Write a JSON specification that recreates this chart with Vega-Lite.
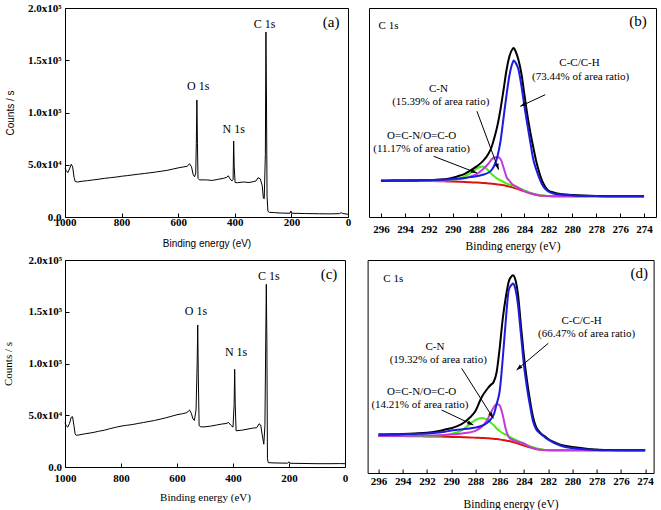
{
 "$schema": "https://vega.github.io/schema/vega-lite/v6.json",
 "background": "white",
 "padding": {"left": 1, "top": 1, "right": 0, "bottom": 0},
 "config": {
  "view": {"stroke": "black", "strokeWidth": 1},
  "axis": {"grid": false, "domain": false, "labelFont": "Liberation Serif", "labelFontWeight": "bold", "labelFontSize": 11, "labelColor": "black", "tickColor": "black", "titleFont": "Liberation Serif", "titleFontWeight": "normal", "titleFontSize": 11.5, "titleColor": "black", "labelFlush": false, "labelOverlap": false}
 },
 "datasets": {
  "a": [{"e":1000,"c":47000},{"e":996,"c":44500},{"e":990,"c":42500},{"e":984,"c":46000},{"e":978,"c":50500},{"e":973,"c":48000},{"e":968,"c":38000},{"e":964,"c":34000},{"e":955,"c":33500},{"e":940,"c":34200},{"e":920,"c":34800},{"e":900,"c":35500},{"e":880,"c":36200},{"e":860,"c":37000},{"e":840,"c":37600},{"e":820,"c":38200},{"e":800,"c":39000},{"e":780,"c":39600},{"e":760,"c":40300},{"e":740,"c":41000},{"e":720,"c":41600},{"e":700,"c":42300},{"e":680,"c":43000},{"e":660,"c":43800},{"e":640,"c":44600},{"e":620,"c":45800},{"e":600,"c":47000},{"e":580,"c":48000},{"e":568,"c":48500},{"e":560,"c":51000},{"e":553,"c":48000},{"e":547,"c":40500},{"e":542,"c":38500},{"e":538,"c":42000},{"e":536,"c":70000},{"e":534,"c":112000},{"e":532,"c":70000},{"e":530,"c":37000},{"e":525,"c":35500},{"e":500,"c":35500},{"e":480,"c":35000},{"e":460,"c":36000},{"e":440,"c":37000},{"e":428,"c":38000},{"e":423,"c":39500},{"e":417,"c":36500},{"e":410,"c":34500},{"e":406,"c":36000},{"e":404,"c":72700},{"e":402,"c":48000},{"e":399,"c":33000},{"e":390,"c":32800},{"e":370,"c":33500},{"e":350,"c":33000},{"e":335,"c":33800},{"e":325,"c":34500},{"e":318,"c":37600},{"e":310,"c":36500},{"e":303,"c":30000},{"e":299,"c":18000},{"e":296,"c":17500},{"e":292,"c":60000},{"e":290,"c":177000},{"e":288,"c":110000},{"e":286,"c":20000},{"e":283,"c":5500},{"e":278,"c":4500},{"e":260,"c":4200},{"e":240,"c":3800},{"e":205,"c":3600},{"e":202,"c":5800},{"e":199,"c":3600},{"e":150,"c":3300},{"e":100,"c":3100},{"e":60,"c":3000},{"e":30,"c":3200},{"e":24,"c":4200},{"e":18,"c":3300},{"e":0,"c":2600}],
  "c": [{"e":1000,"c":42800},{"e":996,"c":40000},{"e":990,"c":38600},{"e":984,"c":42000},{"e":978,"c":48000},{"e":973,"c":48600},{"e":968,"c":40000},{"e":964,"c":32000},{"e":960,"c":30600},{"e":950,"c":31000},{"e":930,"c":32000},{"e":900,"c":33300},{"e":880,"c":34500},{"e":860,"c":35500},{"e":840,"c":37000},{"e":820,"c":38300},{"e":800,"c":39500},{"e":780,"c":40300},{"e":760,"c":41000},{"e":740,"c":42000},{"e":720,"c":43000},{"e":700,"c":44000},{"e":680,"c":45000},{"e":660,"c":46200},{"e":640,"c":47500},{"e":620,"c":49000},{"e":600,"c":50500},{"e":580,"c":51500},{"e":565,"c":52500},{"e":555,"c":55000},{"e":549,"c":52000},{"e":543,"c":46500},{"e":538,"c":45000},{"e":532,"c":55000},{"e":528,"c":100000},{"e":526,"c":137200},{"e":524,"c":90000},{"e":521,"c":40000},{"e":515,"c":38800},{"e":500,"c":38800},{"e":480,"c":39500},{"e":460,"c":40500},{"e":440,"c":41500},{"e":425,"c":42000},{"e":416,"c":43000},{"e":408,"c":40500},{"e":400,"c":38500},{"e":396,"c":60000},{"e":394,"c":94400},{"e":392,"c":60000},{"e":389,"c":35000},{"e":370,"c":35500},{"e":350,"c":36500},{"e":330,"c":37500},{"e":315,"c":38000},{"e":307,"c":41800},{"e":301,"c":40500},{"e":295,"c":30000},{"e":290,"c":22000},{"e":286,"c":40000},{"e":282,"c":150000},{"e":281,"c":176500},{"e":279,"c":120000},{"e":277,"c":8000},{"e":274,"c":4200},{"e":250,"c":3900},{"e":205,"c":3700},{"e":200,"c":5000},{"e":196,"c":3600},{"e":150,"c":3400},{"e":100,"c":3200},{"e":50,"c":3200},{"e":20,"c":3300},{"e":0,"c":3200}],
  "b": [{"x":296,"r":36.3,"g":36.3,"m":36.3,"bl":36.3,"k":36.3},{"x":295,"r":36.3,"g":36.3,"m":36.3,"bl":36.4,"k":36.4},{"x":294,"r":36.2,"g":36.3,"m":36.3,"bl":36.5,"k":36.5},{"x":293,"r":36.1,"g":36.3,"m":36.3,"bl":36.7,"k":36.6},{"x":292,"r":36.0,"g":36.3,"m":36.5,"bl":36.9,"k":36.8},{"x":291,"r":35.8,"g":36.2,"m":36.8,"bl":37.3,"k":37.4},{"x":290.5,"r":35.6,"g":36.5,"m":37.1,"bl":37.6,"k":38.1},{"x":290,"r":35.4,"g":37.0,"m":37.5,"bl":38.0,"k":39.3},{"x":289.5,"r":35.2,"g":38.0,"m":38.0,"bl":38.5,"k":41.0},{"x":289,"r":35.0,"g":40.5,"m":38.8,"bl":39.1,"k":43.2},{"x":288.5,"r":34.7,"g":44.0,"m":40.6,"bl":39.9,"k":46.6},{"x":288,"r":34.4,"g":48.5,"m":42.8,"bl":40.8,"k":50.6},{"x":287.5,"r":34.0,"g":50.5,"m":47.5,"bl":42.2,"k":55.6},{"x":287,"r":33.6,"g":46.2,"m":53.5,"bl":44.5,"k":63.5},{"x":286.75,"r":33.3,"g":43.0,"m":57.5,"bl":47.0,"k":70.0},{"x":286.5,"r":33.0,"g":40.5,"m":59.5,"bl":52.0,"k":80.0},{"x":286.25,"r":32.6,"g":38.2,"m":60.0,"bl":61.0,"k":92.0},{"x":286,"r":32.2,"g":36.6,"m":58.0,"bl":76.0,"k":108.0},{"x":285.75,"r":31.7,"g":35.0,"m":49.5,"bl":99.0,"k":127.0},{"x":285.5,"r":31.1,"g":33.6,"m":40.0,"bl":122.0,"k":147.0},{"x":285.25,"r":30.4,"g":32.5,"m":36.0,"bl":142.0,"k":161.0},{"x":285,"r":29.6,"g":31.5,"m":32.5,"bl":154.0,"k":168.0},{"x":284.9,"r":29.3,"g":31.0,"m":31.8,"bl":156.5,"k":169.0},{"x":284.75,"r":28.8,"g":30.3,"m":30.8,"bl":154.5,"k":166.0},{"x":284.5,"r":27.8,"g":29.0,"m":29.2,"bl":147.5,"k":157.0},{"x":284.25,"r":26.8,"g":27.8,"m":27.5,"bl":131.0,"k":143.0},{"x":284,"r":25.6,"g":26.5,"m":25.8,"bl":110.5,"k":122.0},{"x":283.75,"r":24.6,"g":25.3,"m":24.6,"bl":92.0,"k":101.5},{"x":283.5,"r":23.6,"g":24.2,"m":23.7,"bl":74.0,"k":84.0},{"x":283.25,"r":22.8,"g":23.3,"m":23.0,"bl":57.0,"k":69.0},{"x":283,"r":22.1,"g":22.5,"m":22.3,"bl":47.0,"k":55.0},{"x":282.75,"r":21.6,"g":21.9,"m":21.8,"bl":38.5,"k":44.0},{"x":282.5,"r":21.2,"g":21.4,"m":21.3,"bl":32.0,"k":35.5},{"x":282.25,"r":21.0,"g":21.2,"m":21.1,"bl":28.0,"k":30.0},{"x":282,"r":20.9,"g":21.0,"m":20.9,"bl":25.5,"k":26.5},{"x":281.5,"r":20.8,"g":20.8,"m":20.8,"bl":23.3,"k":24.3},{"x":281,"r":20.7,"g":20.7,"m":20.7,"bl":22.4,"k":23.0},{"x":280.5,"r":20.7,"g":20.7,"m":20.7,"bl":21.9,"k":22.4},{"x":280,"r":20.7,"g":20.7,"m":20.7,"bl":21.6,"k":22.0},{"x":279,"r":20.7,"g":20.7,"m":20.7,"bl":21.1,"k":21.4},{"x":278,"r":20.7,"g":20.7,"m":20.7,"bl":20.9,"k":21.0},{"x":277,"r":20.7,"g":20.7,"m":20.7,"bl":20.8,"k":20.8},{"x":276,"r":20.7,"g":20.7,"m":20.7,"bl":20.7,"k":20.7},{"x":275,"r":20.7,"g":20.7,"m":20.7,"bl":20.7,"k":20.7},{"x":274,"r":20.7,"g":20.7,"m":20.7,"bl":20.7,"k":20.7}],
  "d": [{"x":296,"r":37.0,"g":37.0,"m":37.0,"bl":38.4,"k":38.4},{"x":295,"r":37.0,"g":37.0,"m":37.0,"bl":38.6,"k":38.7},{"x":294,"r":36.9,"g":37.0,"m":37.1,"bl":38.8,"k":39.0},{"x":293,"r":36.8,"g":37.0,"m":37.2,"bl":39.1,"k":39.5},{"x":292,"r":36.6,"g":37.1,"m":37.4,"bl":39.5,"k":40.2},{"x":291,"r":36.4,"g":37.5,"m":37.8,"bl":40.5,"k":42.0},{"x":290.5,"r":36.3,"g":38.0,"m":38.1,"bl":41.3,"k":43.5},{"x":290,"r":36.1,"g":39.0,"m":38.5,"bl":42.5,"k":44.8},{"x":289.5,"r":36.0,"g":40.7,"m":39.0,"bl":43.2,"k":46.8},{"x":289,"r":35.8,"g":43.8,"m":39.7,"bl":43.8,"k":50.0},{"x":288.5,"r":35.6,"g":48.5,"m":40.5,"bl":44.5,"k":55.0},{"x":288,"r":35.3,"g":53.0,"m":42.2,"bl":45.5,"k":62.0},{"x":287.5,"r":35.0,"g":55.0,"m":46.0,"bl":47.0,"k":75.5},{"x":287,"r":34.7,"g":53.2,"m":53.5,"bl":50.5,"k":84.5},{"x":286.75,"r":34.5,"g":50.5,"m":60.0,"bl":53.5,"k":88.0},{"x":286.5,"r":34.2,"g":48.0,"m":65.5,"bl":58.0,"k":91.0},{"x":286.25,"r":33.9,"g":44.5,"m":69.0,"bl":69.0,"k":101.0},{"x":286,"r":33.5,"g":42.0,"m":67.5,"bl":82.0,"k":125.0},{"x":285.75,"r":33.1,"g":40.0,"m":58.0,"bl":114.0,"k":154.0},{"x":285.5,"r":32.5,"g":38.3,"m":44.0,"bl":152.0,"k":175.5},{"x":285.25,"r":31.9,"g":36.5,"m":36.0,"bl":183.0,"k":191.5},{"x":285,"r":31.2,"g":35.0,"m":33.5,"bl":188.5,"k":197.0},{"x":284.9,"r":30.9,"g":34.4,"m":33.0,"bl":189.4,"k":197.7},{"x":284.75,"r":30.4,"g":33.5,"m":32.2,"bl":186.0,"k":195.0},{"x":284.5,"r":29.5,"g":32.0,"m":31.2,"bl":169.0,"k":179.5},{"x":284.25,"r":28.5,"g":30.5,"m":30.5,"bl":139.0,"k":148.0},{"x":284,"r":27.5,"g":29.2,"m":29.5,"bl":108.0,"k":117.0},{"x":283.75,"r":26.5,"g":28.0,"m":27.8,"bl":85.4,"k":92.5},{"x":283.5,"r":25.6,"g":26.8,"m":26.2,"bl":67.4,"k":72.5},{"x":283.25,"r":24.8,"g":25.8,"m":25.0,"bl":51.8,"k":56.0},{"x":283,"r":24.1,"g":24.8,"m":24.0,"bl":44.0,"k":46.0},{"x":282.75,"r":23.6,"g":24.1,"m":23.4,"bl":40.4,"k":41.5},{"x":282.5,"r":23.2,"g":23.5,"m":23.0,"bl":38.0,"k":38.5},{"x":282.25,"r":23.0,"g":23.1,"m":22.8,"bl":35.5,"k":36.5},{"x":282,"r":22.8,"g":22.9,"m":22.7,"bl":33.3,"k":34.0},{"x":281.5,"r":22.7,"g":22.8,"m":22.7,"bl":30.0,"k":30.8},{"x":281,"r":22.7,"g":22.7,"m":22.7,"bl":27.5,"k":28.3},{"x":280.5,"r":22.7,"g":22.7,"m":22.7,"bl":25.8,"k":27.0},{"x":280,"r":22.7,"g":22.7,"m":22.7,"bl":24.9,"k":26.0},{"x":279,"r":22.7,"g":22.7,"m":22.7,"bl":23.7,"k":24.6},{"x":278,"r":22.7,"g":22.7,"m":22.7,"bl":23.1,"k":23.5},{"x":277,"r":22.7,"g":22.7,"m":22.7,"bl":22.8,"k":23.0},{"x":276,"r":22.7,"g":22.7,"m":22.7,"bl":22.7,"k":22.8},{"x":275,"r":22.7,"g":22.7,"m":22.7,"bl":22.7,"k":22.7},{"x":274,"r":22.7,"g":22.7,"m":22.7,"bl":22.7,"k":22.7}],
  "al": [{"e":294.5,"c":185000,"t":"C 1s"},{"e":529.5,"c":125400,"t":"O 1s"},{"e":404,"c":84500,"t":"N 1s"}],
  "ap": [{"e":59.5,"c":186900,"t":"(a)"}],
  "cl": [{"e":272,"c":184500,"t":"C 1s"},{"e":532,"c":150700,"t":"O 1s"},{"e":389,"c":111100,"t":"N 1s"}],
  "cp": [{"e":57,"c":186200,"t":"(c)"}],
  "bt": [{"x":279.4,"y":154,"t":"C-C/C-H"},{"x":279.3,"y":140,"t":"(73.44% of area ratio)"},{"x":291.2,"y":128,"t":"C-N"},{"x":291.0,"y":114.7,"t":"(15.39% of area ratio)"},{"x":292.6,"y":80.7,"t":"O=C-N/O=C-O"},{"x":292.6,"y":68,"t":"(11.17% of area ratio)"}],
  "bc": [{"x":296.2,"y":190.7,"t":"C 1s"}],
  "bp": [{"x":274.5,"y":196,"t":"(b)"}],
  "ba": [{"id":"cc","x":282.26,"y":122.3,"xe":284.35,"ye":110.7},{"id":"cn","x":287.97,"y":105.7,"xe":286.16,"ye":47.3},{"id":"oc","x":291.59,"y":60.7,"xe":287.97,"ye":44}],
  "bh": [{"id":"cc","x":284.35,"y":110.7},{"id":"cn","x":286.16,"y":47.3},{"id":"oc","x":287.97,"y":44}],
  "dt": [{"x":279.24,"y":152,"t":"C-C/C-H"},{"x":278.83,"y":138.7,"t":"(66.47% of area ratio)"},{"x":291.34,"y":126.3,"t":"C-N"},{"x":291.07,"y":113,"t":"(19.32% of area ratio)"},{"x":292.44,"y":81.3,"t":"O=C-N/O=C-O"},{"x":292.58,"y":68,"t":"(14.21% of area ratio)"}],
  "dc": [{"x":295.6,"y":194,"t":"C 1s"}],
  "dp": [{"x":274.48,"y":200,"t":"(d)"}],
  "da": [{"id":"cc","x":281.99,"y":129.7,"xe":284.61,"ye":103},{"id":"cn","x":289.14,"y":104.7,"xe":286.53,"ye":54.7},{"id":"oc","x":290.79,"y":63,"xe":288.18,"ye":48}],
  "dh": [{"id":"cc","x":284.61,"y":103},{"id":"cn","x":286.53,"y":54.7},{"id":"oc","x":288.18,"y":48}]
 },
 "spacing": 0,
 "vconcat": [
  {
   "hconcat": [
    {
     "width": 283, "height": 209,
     "layer": [
      {"data": {"name": "a"}, "mark": {"type": "line", "color": "black", "strokeWidth": 1},
       "encoding": {
        "x": {"field": "e", "type": "quantitative", "scale": {"domain": [0, 1000], "reverse": true, "nice": false},
              "axis": {"title": "Binding energy (eV)", "titleFont": "Liberation Sans", "titleFontSize": 10, "values": [0,100,200,300,400,500,600,700,800,900,1000], "format": "d", "labelExpr": "datum.value % 200 == 0 ? datum.label : ''", "labelOverlap": false, "tickSize": -4, "labelPadding": 3, "titlePadding": 11}},
        "y": {"field": "c", "type": "quantitative", "scale": {"domain": [0, 200000], "nice": false},
              "axis": {"title": "Counts / s", "titleFont": "Liberation Sans", "titleFontSize": 10, "values": [0,25000,50000,75000,100000,125000,150000,175000,200000], "labelExpr": "datum.value == 0 ? '0.0' : datum.value == 50000 ? '5.0x10⁴' : datum.value == 100000 ? '1.0x10⁵' : datum.value == 150000 ? '1.5x10⁵' : datum.value == 200000 ? '2.0x10⁵' : ''", "labelOverlap": false, "tickSize": -4, "labelPadding": 8, "titlePadding": 12}}
       }},
      {"data": {"name": "al"}, "mark": {"type": "text", "font": "Liberation Serif", "fontSize": 12, "color": "black"},
       "encoding": {"x": {"field": "e", "type": "quantitative"}, "y": {"field": "c", "type": "quantitative"}, "text": {"field": "t"}}},
      {"data": {"name": "ap"}, "mark": {"type": "text", "font": "Liberation Serif", "fontSize": 15, "color": "black"},
       "encoding": {"x": {"field": "e", "type": "quantitative"}, "y": {"field": "c", "type": "quantitative"}, "text": {"field": "t"}}}
     ]
    },
    {
     "width": 287, "height": 209,
     "encoding": {
      "x": {"field": "x", "type": "quantitative", "scale": {"domain": [273, 297], "reverse": true, "nice": false},
            "axis": {"title": "Binding energy (eV)", "values": [274,276,278,280,282,284,286,288,290,292,294,296], "labelOverlap": false, "labelSeparation": -30, "tickSize": -4, "labelPadding": 10, "titlePadding": 6.7}}
     },
     "layer": [
      {"data": {"name": "b"}, "mark": {"type": "line", "color": "#dd1111", "strokeWidth": 2, "interpolate": "monotone"},
       "encoding": {"y": {"field": "r", "type": "quantitative", "scale": {"domain": [0, 209], "nice": false}, "axis": null}}},
      {"data": {"name": "b"}, "mark": {"type": "line", "color": "#44ee11", "strokeWidth": 2, "interpolate": "monotone"},
       "encoding": {"y": {"field": "g", "type": "quantitative", "axis": null}}},
      {"data": {"name": "b"}, "mark": {"type": "line", "color": "#c03cd8", "strokeWidth": 2, "interpolate": "monotone"},
       "encoding": {"y": {"field": "m", "type": "quantitative", "axis": null}}},
      {"data": {"name": "b"}, "mark": {"type": "line", "color": "black", "strokeWidth": 2, "interpolate": "monotone"},
       "encoding": {"y": {"field": "k", "type": "quantitative", "axis": null}}},
      {"data": {"name": "b"}, "mark": {"type": "line", "color": "#1c1cdc", "strokeWidth": 2, "interpolate": "monotone"},
       "encoding": {"y": {"field": "bl", "type": "quantitative", "axis": null}}},
      {"data": {"name": "bt"}, "mark": {"type": "text", "font": "Liberation Serif", "fontSize": 11, "color": "black"},
       "encoding": {"y": {"field": "y", "type": "quantitative", "axis": null}, "text": {"field": "t"}}},
      {"data": {"name": "bc"}, "mark": {"type": "text", "font": "Liberation Serif", "fontSize": 11, "color": "black", "align": "left"},
       "encoding": {"y": {"field": "y", "type": "quantitative", "axis": null}, "text": {"field": "t"}}},
      {"data": {"name": "bp"}, "mark": {"type": "text", "font": "Liberation Serif", "fontSize": 15, "color": "black"},
       "encoding": {"y": {"field": "y", "type": "quantitative", "axis": null}, "text": {"field": "t"}}},
      {"data": {"name": "ba"}, "mark": {"type": "rule", "color": "black", "strokeWidth": 1},
       "encoding": {"y": {"field": "y", "type": "quantitative", "axis": null}, "x2": {"field": "xe"}, "y2": {"field": "ye"}}},
      {"data": {"name": "bh"}, "transform": [{"filter": "datum.id == 'cc'"}], "mark": {"type": "point", "shape": "M0,0L-0.7,2L0.7,2Z", "filled": true, "color": "black", "opacity": 1, "size": 36, "angle": 245},
       "encoding": {"y": {"field": "y", "type": "quantitative", "axis": null}}},
      {"data": {"name": "bh"}, "transform": [{"filter": "datum.id == 'cn'"}], "mark": {"type": "point", "shape": "M0,0L-0.7,2L0.7,2Z", "filled": true, "color": "black", "opacity": 1, "size": 36, "angle": 160},
       "encoding": {"y": {"field": "y", "type": "quantitative", "axis": null}}},
      {"data": {"name": "bh"}, "transform": [{"filter": "datum.id == 'oc'"}], "mark": {"type": "point", "shape": "M0,0L-0.7,2L0.7,2Z", "filled": true, "color": "black", "opacity": 1, "size": 36, "angle": 111},
       "encoding": {"y": {"field": "y", "type": "quantitative", "axis": null}}}
     ]
    }
   ],
   "spacing": 21, "bounds": "flush"
  },
  {
   "hconcat": [
    {
     "width": 280, "height": 207,
     "layer": [
      {"data": {"name": "c"}, "mark": {"type": "line", "color": "black", "strokeWidth": 1},
       "encoding": {
        "x": {"field": "e", "type": "quantitative", "scale": {"domain": [0, 1000], "reverse": true, "nice": false},
              "axis": {"title": "Binding energy (eV)", "titleFontSize": 11, "values": [0,100,200,300,400,500,600,700,800,900,1000], "format": "d", "labelExpr": "datum.value % 200 == 0 ? datum.label : ''", "labelOverlap": false, "tickSize": -4, "labelPadding": 9, "titlePadding": 8}},
        "y": {"field": "c", "type": "quantitative", "scale": {"domain": [0, 200000], "nice": false},
              "axis": {"title": "Counts / s", "titleFontSize": 11, "values": [0,25000,50000,75000,100000,125000,150000,175000,200000], "labelExpr": "datum.value == 0 ? '0.0' : datum.value == 50000 ? '5.0x10⁴' : datum.value == 100000 ? '1.0x10⁵' : datum.value == 150000 ? '1.5x10⁵' : datum.value == 200000 ? '2.0x10⁵' : ''", "labelOverlap": false, "tickSize": -4, "labelPadding": 7.4, "titlePadding": 15}}
       }},
      {"data": {"name": "cl"}, "mark": {"type": "text", "font": "Liberation Serif", "fontSize": 12, "color": "black"},
       "encoding": {"x": {"field": "e", "type": "quantitative"}, "y": {"field": "c", "type": "quantitative"}, "text": {"field": "t"}}},
      {"data": {"name": "cp"}, "mark": {"type": "text", "font": "Liberation Serif", "fontSize": 15, "color": "black"},
       "encoding": {"x": {"field": "e", "type": "quantitative"}, "y": {"field": "c", "type": "quantitative"}, "text": {"field": "t"}}}
     ]
    },
    {
     "width": 286, "height": 213,
     "encoding": {
      "x": {"field": "x", "type": "quantitative", "scale": {"domain": [273.3, 296.9], "reverse": true, "nice": false},
            "axis": {"title": "Binding energy (eV)", "values": [274,276,278,280,282,284,286,288,290,292,294,296], "labelOverlap": false, "labelSeparation": -30, "tickSize": -4, "labelPadding": 6, "titlePadding": 12.6}}
     },
     "layer": [
      {"data": {"name": "d"}, "mark": {"type": "line", "color": "#dd1111", "strokeWidth": 2, "interpolate": "monotone"},
       "encoding": {"y": {"field": "r", "type": "quantitative", "scale": {"domain": [0, 213], "nice": false}, "axis": null}}},
      {"data": {"name": "d"}, "mark": {"type": "line", "color": "#44ee11", "strokeWidth": 2, "interpolate": "monotone"},
       "encoding": {"y": {"field": "g", "type": "quantitative", "axis": null}}},
      {"data": {"name": "d"}, "mark": {"type": "line", "color": "#c03cd8", "strokeWidth": 2, "interpolate": "monotone"},
       "encoding": {"y": {"field": "m", "type": "quantitative", "axis": null}}},
      {"data": {"name": "d"}, "mark": {"type": "line", "color": "black", "strokeWidth": 2, "interpolate": "monotone"},
       "encoding": {"y": {"field": "k", "type": "quantitative", "axis": null}}},
      {"data": {"name": "d"}, "mark": {"type": "line", "color": "#1c1cdc", "strokeWidth": 2, "interpolate": "monotone"},
       "encoding": {"y": {"field": "bl", "type": "quantitative", "axis": null}}},
      {"data": {"name": "dt"}, "mark": {"type": "text", "font": "Liberation Serif", "fontSize": 11, "color": "black"},
       "encoding": {"y": {"field": "y", "type": "quantitative", "axis": null}, "text": {"field": "t"}}},
      {"data": {"name": "dc"}, "mark": {"type": "text", "font": "Liberation Serif", "fontSize": 11, "color": "black", "align": "left"},
       "encoding": {"y": {"field": "y", "type": "quantitative", "axis": null}, "text": {"field": "t"}}},
      {"data": {"name": "dp"}, "mark": {"type": "text", "font": "Liberation Serif", "fontSize": 15, "color": "black"},
       "encoding": {"y": {"field": "y", "type": "quantitative", "axis": null}, "text": {"field": "t"}}},
      {"data": {"name": "da"}, "mark": {"type": "rule", "color": "black", "strokeWidth": 1},
       "encoding": {"y": {"field": "y", "type": "quantitative", "axis": null}, "x2": {"field": "xe"}, "y2": {"field": "ye"}}},
      {"data": {"name": "dh"}, "transform": [{"filter": "datum.id == 'cc'"}], "mark": {"type": "point", "shape": "M0,0L-0.7,2L0.7,2Z", "filled": true, "color": "black", "opacity": 1, "size": 36, "angle": 230},
       "encoding": {"y": {"field": "y", "type": "quantitative", "axis": null}}},
      {"data": {"name": "dh"}, "transform": [{"filter": "datum.id == 'cn'"}], "mark": {"type": "point", "shape": "M0,0L-0.7,2L0.7,2Z", "filled": true, "color": "black", "opacity": 1, "size": 36, "angle": 148},
       "encoding": {"y": {"field": "y", "type": "quantitative", "axis": null}}},
      {"data": {"name": "dh"}, "transform": [{"filter": "datum.id == 'oc'"}], "mark": {"type": "point", "shape": "M0,0L-0.7,2L0.7,2Z", "filled": true, "color": "black", "opacity": 1, "size": 36, "angle": 115},
       "encoding": {"y": {"field": "y", "type": "quantitative", "axis": null}}}
     ]
    }
   ],
   "spacing": 22.6, "bounds": "flush"
  }
 ]
}
